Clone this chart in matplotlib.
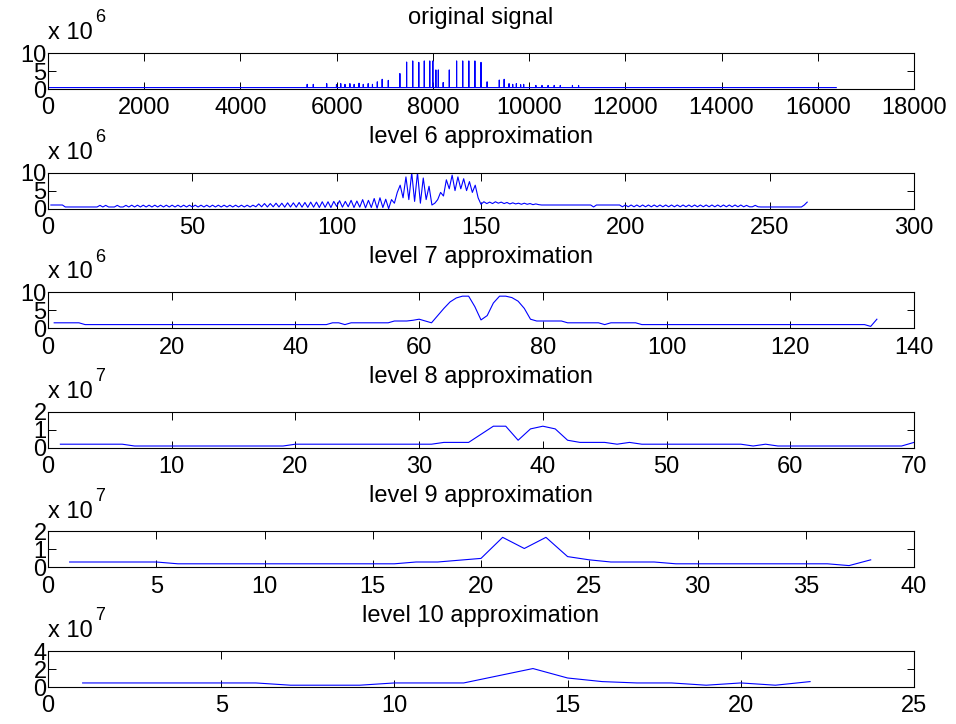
import numpy as np
import matplotlib
matplotlib.use('Agg')
import matplotlib.pyplot as plt

plt.rcParams['font.family'] = ['Liberation Sans', 'DejaVu Sans']
plt.rcParams['font.size'] = 17

# original signal: flat baseline with single-sample spikes (values x 1e6)
n_signal = 16384
baseline = 0.4
spike_pos = [5387, 5514, 5793, 5996, 6085, 6173, 6275, 6363, 6465, 6553,
             6655, 6744, 6845, 6946, 7073, 7314, 7454, 7581, 7707, 7821,
             7935, 7999, 8062, 8113, 8214, 8341, 8493, 8620, 8747, 8873,
             9000, 9127, 9380, 9481, 9583, 9659, 9735, 9824, 9887, 10141,
             10268, 10394, 10521, 10648, 10901, 11028]
spike_val = [1.3, 1.3, 1.5, 1.2, 1.5, 1.3, 1.5, 1.3, 1.6, 1.3,
             1.5, 1.3, 2.0, 2.7, 2.4, 4.3, 7.5, 7.8, 7.4, 7.8,
             7.8, 7.8, 5.3, 5.3, 1.8, 5.3, 7.8, 7.8, 7.8, 7.8,
             7.4, 2.0, 2.5, 2.7, 1.5, 1.3, 1.5, 1.2, 1.3, 1.0,
             1.0, 1.0, 1.0, 1.0, 1.0, 1.0]

# level 6 approximation (x 1e6)
level6 = ([1.0] * 5 + [0.45] * 12 +
          [0.9, 0.45, 0.9, 0.45, 0.45, 0.45, 0.9, 0.45, 0.45, 0.9] +
          [0.45, 0.95, 0.45, 0.95, 0.45, 0.95, 0.45, 0.95, 0.45, 0.95,
           0.45, 0.95, 0.45, 0.95, 0.45, 0.95, 0.45, 0.95, 0.45, 0.95,
           0.45, 0.95, 0.45, 0.95, 0.45, 0.95, 0.45, 0.95, 0.45, 0.95,
           0.45, 0.95, 0.45, 0.95, 0.45, 0.95, 0.45, 0.95, 0.45, 0.95,
           0.45, 0.95, 0.45, 0.95] +
          [0.5, 1.3, 0.5, 1.4, 0.45, 1.4, 0.5, 1.5, 0.45, 1.5,
           0.4, 1.6, 0.45, 1.6, 0.4, 1.7, 0.4, 1.7, 0.35, 1.8,
           0.4, 1.8, 0.3, 1.9, 0.35, 1.9, 0.3, 2.0] +
          [0.6, 2.2, 0.4, 2.0, 0.5, 2.3, 0.3, 2.1, 0.4, 2.5,
           0.2, 2.3, 0.3, 2.8, 0.1, 3.0, 0.3, 2.6, 0.0] +
          [2.5, 1.5, 4.5, 6.5, 3.0, 8.8, 2.5, 10.0, 2.0, 10.0,
           1.5, 8.5, 2.5, 6.2, 1.0, 1.5, 2.5, 4.5, 3.5, 8.0,
           5.5, 9.3, 5.0, 8.8, 5.5, 8.3, 5.0, 7.5, 4.5, 6.5,
           3.0, 1.2] +
          [1.9, 1.4, 1.8, 1.4, 1.9, 1.5, 1.8, 1.4, 1.7, 1.3,
           1.6, 1.3, 1.5, 1.2, 1.5, 1.2, 1.4, 1.1, 1.3, 1.1] +
          [1.0] * 18 + [0.45] + [1.0] * 9 +
          [0.5, 1.0, 0.5, 1.0, 0.5, 1.0, 0.5, 1.0, 0.5, 1.0,
           0.5, 1.0, 0.5, 1.0, 0.5, 1.0, 0.5, 1.0, 0.5, 1.0,
           0.5, 1.0, 0.5, 1.0, 0.5, 1.0, 0.5, 1.0, 0.5, 1.0,
           0.5, 1.0, 0.5, 1.0, 0.5, 1.0, 0.5, 1.0, 0.5, 1.0,
           0.5, 1.0] +
          [0.5, 0.9, 0.5, 0.5, 0.9, 0.5] + [0.45] * 15 + [1.0, 1.8])

# level 7 approximation (x 1e6)
level7 = ([1.5] * 5 + [1.0] * 40 + [1.5, 1.5, 1.0] + [1.5] * 7 +
          [2.0, 2.0, 2.0, 2.2, 2.5, 2.0, 1.5, 3.5, 5.5, 7.3,
           8.4, 8.9, 8.9, 6.0, 2.3, 3.5, 7.0, 8.9, 8.9, 8.5,
           7.5, 5.5, 2.5, 2.0] +
          [2.0] * 4 + [1.5] * 6 + [1.0] + [1.5] * 5 + [1.0] * 37 + [0.5, 2.5])

# level 8 approximation (x 1e7)
level8 = ([0.2] * 6 + [0.1] * 13 + [0.2] * 12 + [0.3] * 3 +
          [0.75, 1.2, 1.2, 0.42, 1.05, 1.2, 1.05, 0.42] +
          [0.3] * 3 + [0.2, 0.3] + [0.2] * 9 + [0.1, 0.2] + [0.1] * 11 + [0.3])

# level 9 approximation (x 1e7)
level9 = ([0.3] * 5 + [0.2] * 11 +
          [0.3, 0.3, 0.4, 0.5, 1.67, 1.05, 1.67, 0.6, 0.42] +
          [0.3] * 3 + [0.2] * 8 + [0.1, 0.42])

# level 10 approximation (x 1e7)
level10 = [0.45, 0.45, 0.45, 0.45, 0.45, 0.45, 0.2, 0.2, 0.2, 0.45,
           0.45, 0.45, 1.25, 2.05, 1.0, 0.6, 0.45, 0.45, 0.2, 0.45,
           0.2, 0.6]

signal = np.full(n_signal, baseline)
signal[np.array(spike_pos) - 1] = spike_val

series = [signal, level6, level7, level8, level9, level10]
titles = ['original signal', 'level 6 approximation', 'level 7 approximation',
          'level 8 approximation', 'level 9 approximation', 'level 10 approximation']
exponents = ['6', '6', '6', '7', '7', '7']
xlims = [18000, 300, 140, 70, 40, 25]
xsteps = [2000, 50, 20, 10, 5, 5]
ylims = [10, 10, 10, 2, 2, 4]
ysteps = [5, 5, 5, 1, 1, 2]

W, H = 956, 724
fig = plt.figure(figsize=(W / 100, H / 100), dpi=100)

left, right = 48, 914
top0, pitch, height = 53, 119.6, 36

for i, y in enumerate(series):
    top = top0 + pitch * i
    ax = fig.add_axes([left / W, 1 - (top + height) / H, (right - left) / W, height / H])
    x = np.arange(1, len(y) + 1)
    ax.plot(x, y, color='#0000ff', lw=0.8)
    ax.set_xlim(0, xlims[i])
    ax.set_ylim(0, ylims[i])
    ax.set_xticks(np.arange(0, xlims[i] + 1, xsteps[i]))
    ax.set_yticks(np.arange(0, ylims[i] + 1, ysteps[i]))
    ax.tick_params(direction='in', top=True, right=True, length=5.4, width=0.7)
    ax.tick_params(axis='x', pad=6)
    ax.tick_params(axis='y', pad=1)
    for s in ax.spines.values():
        s.set_linewidth(0.8)
    ax.set_title(titles[i], pad=21, fontsize=17)
    # MATLAB-style exponent label above the y axis
    ax.annotate('x 10', xy=(0, 1), xycoords='axes fraction', xytext=(0, 10),
                textcoords='offset points', ha='left', va='baseline', fontsize=17)
    ax.annotate(exponents[i], xy=(0, 1), xycoords='axes fraction', xytext=(34, 22),
                textcoords='offset points', ha='left', va='baseline', fontsize=13)

fig.savefig('out.png', dpi=100)
